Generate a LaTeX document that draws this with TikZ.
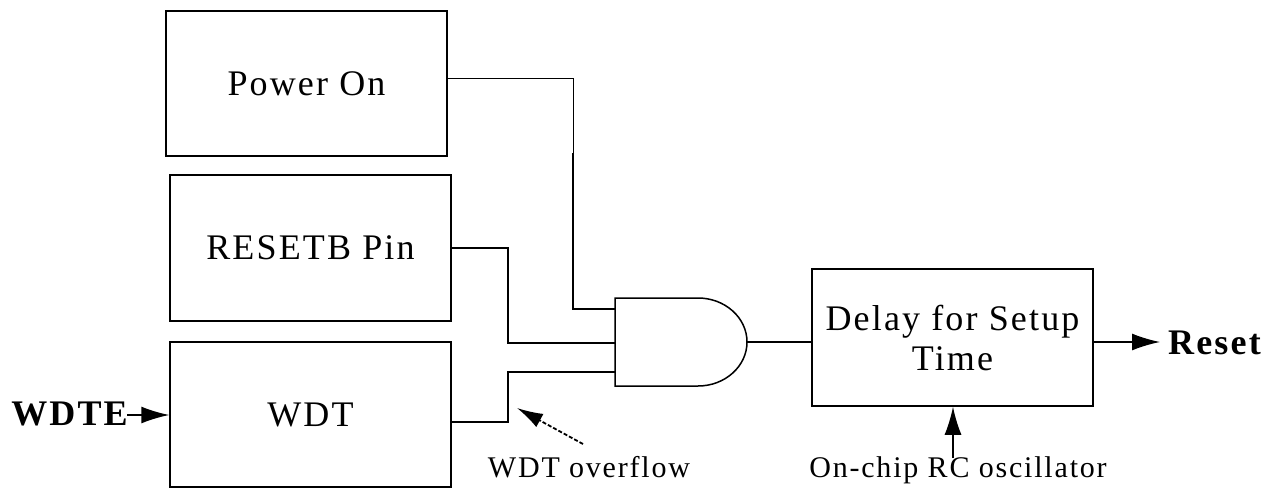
\documentclass[tikz,border=0pt]{standalone}
\usepackage{fontspec}
\setmainfont{Liberation Serif}[LetterSpace=6]
\usetikzlibrary{arrows.meta}
\begin{document}
\begin{tikzpicture}[x=1pt,y=-1pt,
  blk/.style={draw,line width=1.5pt,inner sep=0pt,font=\fontsize{36}{40}\selectfont,align=center},
  wire/.style={line width=1.5pt},
  thinwire/.style={line width=0.8pt},
  arr/.style={line width=1.5pt,-{Latex[length=28pt,width=17pt]}},
  bigb/.style={font=\fontsize{36}{40}\selectfont\bfseries,inner sep=0pt},
  small/.style={font=\fontsize{30}{34}\selectfont,inner sep=0pt}]
\useasboundingbox (0,0) rectangle (1275,488);
% blocks
\node[blk,minimum width=281pt,minimum height=145pt] (pon) at (306.5,83.5) {Power On};
\node[blk,minimum width=281pt,minimum height=146pt] (rst) at (310.5,248) {RESETB Pin};
\node[blk,minimum width=281pt,minimum height=145pt] (wdt) at (310.5,414.5) {WDT};
\node[blk,minimum width=281pt,minimum height=137pt] (dly) at (952.5,337.5) {Delay for Setup\\Time};
% gate
\coordinate (g1) at (615,298);
\coordinate (g2) at (698,298);
\coordinate (g3) at (698,386);
\coordinate (g4) at (615,386);
\coordinate (gout) at (747,342);
\coordinate (gin1) at (615,309);
\coordinate (gin2) at (615,343);
\coordinate (gin3) at (615,372);
\draw[wire] (g2) -- (g1) -- (g4) -- (g3)
  .. controls (725,386) and (747,366.3) .. (gout)
  .. controls (747,317.7) and (725,298) .. (g2);
% connectors
\coordinate (pa) at (573,78);
\coordinate (pb) at (573,153);
\coordinate (pc) at (573,309);
\draw[thinwire] (pon.east |- pa) -- (pa) -- (pb);
\draw[wire] (pb) -- (pc) -- (gin1);
\coordinate (ra) at (508,248);
\draw[wire] (rst.east) -- (ra) -- (ra |- gin2) -- (gin2);
\coordinate (wa) at (508,422);
\draw[wire] (wdt.east |- wa) -- (wa) -- (wa |- gin3) -- (gin3);
\draw[wire] (gout) -- (dly.west |- gout);
% labels
\node[bigb,anchor=base east] (wdte) at (128,425) {WDTE};
\coordinate (wdtein) at (127,415);
\draw[arr] (wdtein) -- (wdt.west |- wdtein);
\node[bigb,anchor=base west] (rstout) at (1168,354) {Reset};
\coordinate (rstin) at (1160,342);
\draw[arr] (dly.east |- gout) -- (rstin);
\node[small,anchor=base] (osc) at (958,477) {On-chip RC oscillator};
\coordinate (osctail) at (953,458);
\draw[arr] (osctail) -- (osctail |- dly.south);
\node[small,anchor=base] (ovf) at (589,477) {WDT overflow};
\coordinate (ova) at (583,444);
\coordinate (ovb) at (517,408);
\draw[line width=1.8pt,dash pattern=on 4pt off 2pt,-{Latex[length=26pt,width=15pt]}] (ova) -- (ovb);
\end{tikzpicture}
\end{document}
